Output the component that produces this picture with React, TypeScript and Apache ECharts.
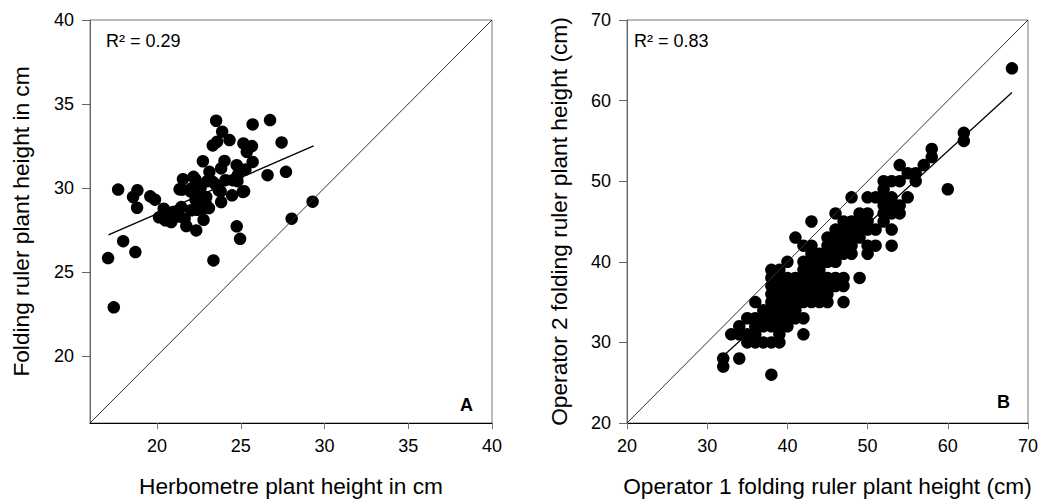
import React, { useEffect, useRef } from 'react';
import * as echarts from 'echarts';

const FONT = "'Liberation Sans', Arial, sans-serif";

const ticksA = [20, 25, 30, 35, 40];
const ticksB = [20, 30, 40, 50, 60, 70];

const titleAX = 'Herbometre plant height in cm';
const titleAY = 'Folding ruler plant height in cm';
const titleBX = 'Operator 1 folding ruler plant height (cm)';
const titleBY = 'Operator 2 folding ruler plant height (cm)';
const r2A = 'R² = 0.29';
const r2B = 'R² = 0.83';

const pointsA: number[][] = [
  [17.08, 25.82], [17.42, 22.89], [17.68, 29.9], [17.98, 26.83], [18.71, 26.18], [18.57, 29.46],
  [18.83, 29.86], [18.81, 28.82], [19.6, 29.5], [19.88, 29.3], [20.12, 28.25], [20.4, 28.76],
  [20.5, 28.07], [20.85, 27.97], [20.95, 28.57], [21.45, 28.86], [21.35, 29.92], [21.55, 30.52],
  [21.65, 28.17], [21.75, 27.73], [22.04, 28.67], [22.18, 30.66], [22.04, 29.96], [22.34, 27.47],
  [22.54, 29.66], [22.74, 31.59], [22.78, 28.82], [22.78, 28.1], [22.94, 29.46], [23.13, 30.96],
  [23.33, 30.36], [23.37, 25.68], [23.33, 32.53], [23.53, 34.0], [23.59, 32.75], [23.69, 29.86],
  [23.83, 29.16], [23.89, 33.35], [23.83, 31.16], [24.03, 31.61], [24.09, 30.46], [24.33, 32.85],
  [24.48, 29.56], [24.52, 30.46], [24.76, 27.71], [24.76, 31.35], [24.82, 30.76], [24.96, 26.97],
  [25.12, 29.76], [25.16, 32.65], [25.28, 31.1], [25.36, 32.15], [25.67, 32.49], [25.71, 33.78],
  [25.71, 31.55], [26.6, 30.76], [26.75, 34.04], [27.44, 32.71], [27.7, 30.96], [28.04, 28.17],
  [29.29, 29.18], [22.3, 30.5], [21.5, 29.9], [22.0, 29.8], [22.6, 30.0], [22.4, 28.7],
  [23.5, 30.2], [23.8, 29.8], [24.8, 30.4], [25.2, 29.8], [22.9, 29.1], [23.1, 28.8],
  [21.3, 28.3], [20.8, 28.3], [22.3, 29.3], [23.0, 30.4],
];
const regA = [[17.1, 27.2], [29.35, 32.5]];
const diagA = [[16, 16], [40, 40]];

const pointsB: number[][] = [
  [32, 27], [32, 28], [33, 31], [34, 28], [34, 31], [34, 32],
  [35, 30], [35, 31], [35, 33], [36, 30], [36, 31], [36, 32], [36, 33], [36, 35],
  [37, 30], [37, 32], [37, 33], [37, 34],
  [38, 26], [38, 30], [38, 32], [38, 33], [38, 34], [38, 35], [38, 36], [38, 37], [38, 38], [38, 39],
  [39, 30], [39, 31], [39, 32], [39, 33], [39, 34], [39, 35], [39, 36], [39, 37], [39, 38], [39, 39],
  [40, 32], [40, 33], [40, 34], [40, 35], [40, 36], [40, 37], [40, 38], [40, 40],
  [41, 33], [41, 34], [41, 35], [41, 36], [41, 37], [41, 38], [41, 43],
  [42, 31], [42, 33], [42, 35], [42, 36], [42, 37], [42, 38], [42, 39], [42, 40], [42, 42],
  [43, 35], [43, 36], [43, 37], [43, 38], [43, 39], [43, 40], [43, 41], [43, 42], [43, 45],
  [44, 35], [44, 36], [44, 37], [44, 38], [44, 39], [44, 40], [44, 41],
  [45, 35], [45, 36], [45, 37], [45, 38], [45, 40], [45, 41], [45, 42], [45, 43],
  [46, 37], [46, 38], [46, 40], [46, 41], [46, 42], [46, 43], [46, 44], [46, 46],
  [47, 35], [47, 37], [47, 38], [47, 41], [47, 42], [47, 43], [47, 44], [47, 45],
  [48, 41], [48, 42], [48, 43], [48, 44], [48, 45], [48, 48],
  [49, 38], [49, 43], [49, 44], [49, 45], [49, 46],
  [50, 41], [50, 42], [50, 44], [50, 45], [50, 46], [50, 48],
  [51, 42], [51, 44], [51, 48],
  [52, 45], [52, 46], [52, 47], [52, 48], [52, 49], [52, 50],
  [53, 42], [53, 44], [53, 46], [53, 47], [53, 48], [53, 50],
  [54, 46], [54, 47], [54, 50], [54, 52],
  [55, 48], [55, 51], [56, 50], [56, 51], [57, 52], [58, 53], [58, 54],
  [60, 49], [62, 55], [62, 56], [68, 64],
];
const regB = [[32, 28.3], [68, 61]];
const diagB = [[20, 20], [70, 70]];

const GRID_A = { left: 90, top: 20, width: 402, height: 403 };
const GRID_B = { left: 627, top: 20, width: 401, height: 403 };

function xAxisCfg(gridIndex: number, min: number, max: number, ticks: number[], name: string, interval?: number) {
  return {
    type: 'value', gridIndex, min, max, interval,
    name, nameLocation: 'middle', nameGap: 51,
    nameTextStyle: { fontFamily: FONT, fontSize: 22.7, color: '#000' },
    axisLine: { show: true, onZero: false, lineStyle: { color: '#000', width: 1 } },
    axisTick: { show: true, length: 6, customValues: ticks, lineStyle: { color: '#777' } },
    axisLabel: { customValues: ticks, margin: 14, fontFamily: FONT, fontSize: 18, color: '#000' },
    splitLine: { show: false },
  };
}
function yAxisCfg(gridIndex: number, min: number, max: number, ticks: number[], name: string, gap: number, interval?: number) {
  return {
    type: 'value', gridIndex, min, max, interval,
    name, nameLocation: 'middle', nameGap: gap,
    nameTextStyle: { fontFamily: FONT, fontSize: 22.7, color: '#000' },
    axisLine: { show: true, onZero: false, lineStyle: { color: '#666', width: 1 } },
    axisTick: { show: true, length: 8, customValues: ticks, lineStyle: { color: '#666' } },
    axisLabel: { customValues: ticks, margin: 16, fontFamily: FONT, fontSize: 18, color: '#000' },
    splitLine: { show: false },
  };
}

export default function App() {
  const ref = useRef<HTMLDivElement>(null);
  useEffect(() => {
    if (!ref.current) return;
    const chart = echarts.init(ref.current, undefined, { renderer: 'svg' });
    const scatter = (idx: number, data: number[][]) => ({
      type: 'scatter', xAxisIndex: idx, yAxisIndex: idx, data,
      symbol: 'circle', symbolSize: 12.5, itemStyle: { color: '#000', opacity: 1 }, z: 3,
    });
    const line = (idx: number, data: number[][], color: string, width: number) => ({
      type: 'line', xAxisIndex: idx, yAxisIndex: idx, data, showSymbol: false, symbol: 'none',
      lineStyle: { color, width }, z: 4,
    });
    chart.setOption({
      animation: false,
      grid: [
        { ...GRID_A, show: true, borderColor: '#777', borderWidth: 1, backgroundColor: 'transparent' },
        { ...GRID_B, show: true, borderColor: '#777', borderWidth: 1, backgroundColor: 'transparent' },
      ],
      xAxis: [
        xAxisCfg(0, 16, 40, ticksA, titleAX),
        xAxisCfg(1, 20, 70, ticksB, titleBX, 10),
      ],
      yAxis: [
        yAxisCfg(0, 16, 40, ticksA, titleAY, 58),
        yAxisCfg(1, 20, 70, ticksB, titleBY, 57, 10),
      ],
      series: [
        line(0, diagA, '#333', 1),
        scatter(0, pointsA),
        line(0, regA, '#000', 1.3),
        line(1, diagB, '#333', 1),
        scatter(1, pointsB),
        line(1, regB, '#000', 1.3),
      ],
      graphic: [
        { type: 'text', left: 106, top: 32, style: { text: r2A, font: `18px ${FONT}`, fill: '#000' } },
        { type: 'text', left: 634, top: 32, style: { text: r2B, font: `18px ${FONT}`, fill: '#000' } },
        { type: 'text', left: 460, top: 396, style: { text: 'A', font: `bold 18px ${FONT}`, fill: '#000' } },
        { type: 'text', left: 997, top: 393, style: { text: 'B', font: `bold 18px ${FONT}`, fill: '#000' } },
      ],
    });
    return () => chart.dispose();
  }, []);
  return <div ref={ref} style={{ position: 'fixed', left: 0, top: 0, width: 1042, height: 502, background: '#fff' }} />;
}
